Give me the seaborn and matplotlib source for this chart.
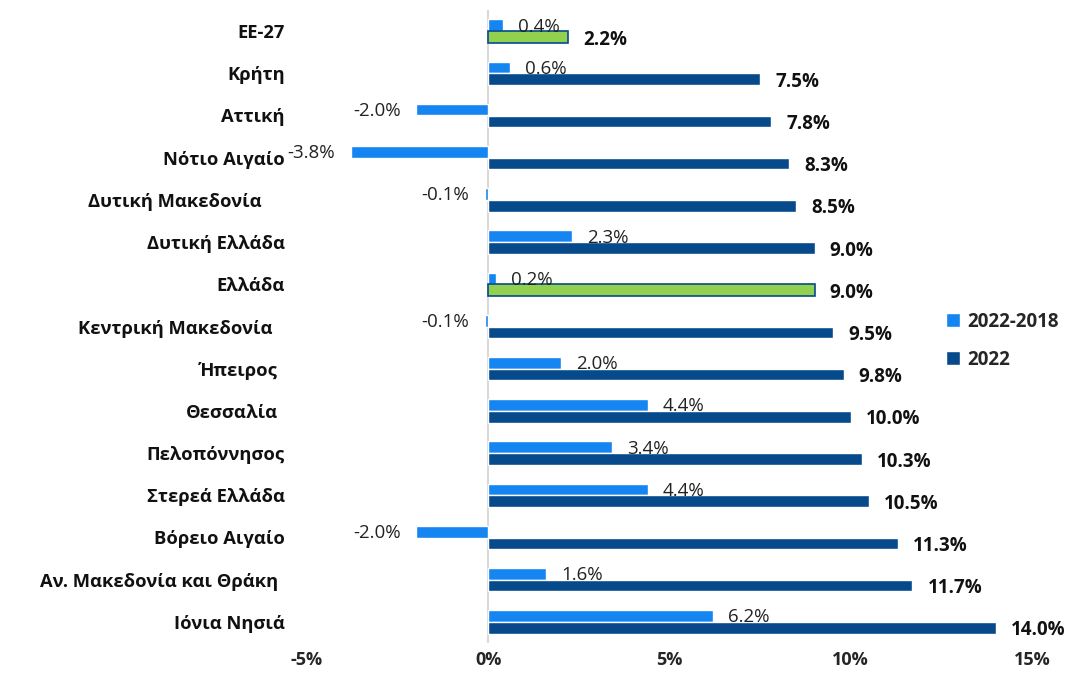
import matplotlib
matplotlib.use("Agg")
import matplotlib.pyplot as plt
import matplotlib.transforms as mtransforms
from matplotlib.patches import Patch
import seaborn as sns
import pandas as pd

regions = ["ΕΕ-27", "Κρήτη", "Αττική", "Νότιο Αιγαίο", "Δυτική Μακεδονία",
           "Δυτική Ελλάδα", "Ελλάδα", "Κεντρική Μακεδονία", "Ήπειρος", "Θεσσαλία",
           "Πελοπόννησος", "Στερεά Ελλάδα", "Βόρειο Αιγαίο",
           "Αν. Μακεδονία και Θράκη", "Ιόνια Νησιά"]
change_2022_2018 = [0.4, 0.6, -2.0, -3.8, -0.1, 2.3, 0.2, -0.1, 2.0, 4.4, 3.4, 4.4, -2.0, 1.6, 6.2]
value_2022 = [2.2, 7.5, 7.8, 8.3, 8.5, 9.0, 9.0, 9.5, 9.8, 10.0, 10.3, 10.5, 11.3, 11.7, 14.0]
series = ["2022-2018", "2022"]
highlight = ["ΕΕ-27", "Ελλάδα"]
xticks = [-5, 0, 5, 10, 15]

df = pd.DataFrame({
    "region": regions * 2,
    "value": change_2022_2018 + value_2022,
    "series": [series[0]] * len(regions) + [series[1]] * len(regions),
})

sns.set_theme(style="white")
plt.rcParams["font.family"] = ["Open Sans", "DejaVu Sans"]

light = "#1585F2"
dark = "#064A8C"
green = "#92D050"

fig = plt.figure(figsize=(10.71, 6.79), dpi=100)
ax = fig.add_axes([307 / 1071, 1 - 643 / 679, (1032 - 307) / 1071, (643 - 10) / 679])

sns.barplot(data=df, y="region", x="value", hue="series", order=regions,
            hue_order=series, palette=[light, dark], orient="h", width=0.55,
            gap=0, saturation=1, ax=ax, legend=False)

# highlight bars
for i, r in enumerate(regions):
    if r in highlight:
        p = ax.containers[1][i]
        p.set_facecolor(green)
        p.set_edgecolor(dark)
        p.set_linewidth(1.2)

# value labels
for i in range(len(regions)):
    p = ax.containers[0][i]
    v = change_2022_2018[i]
    yc = p.get_y() + p.get_height() / 2
    off = 11 if v >= 0 else -11
    ax.annotate(f"{v:.1f}%", (v, yc), xytext=(off, -1), textcoords="offset points",
                ha="left" if v >= 0 else "right", va="center", fontsize=13.5,
                color="#222222")
    p2 = ax.containers[1][i]
    v2 = value_2022[i]
    yc2 = p2.get_y() + p2.get_height() / 2
    ax.annotate(f"{v2:.1f}%", (v2, yc2), xytext=(11, -2), textcoords="offset points",
                ha="left", va="center", fontsize=13.5, fontweight="bold",
                color="#111111")

ax.set_xlim(-5, 15)
ax.set_xticks(xticks)
ax.set_xticklabels([f"{t}%" for t in xticks], fontsize=13, fontweight="bold")
ax.set_ylim(len(regions) - 0.5, -0.5)
ax.set_xlabel("")
ax.set_ylabel("")
for s in ax.spines.values():
    s.set_visible(False)
ax.axvline(0, color="#D9D9D9", lw=1.5, zorder=0.5)
ax.tick_params(axis="y", length=0, pad=16)
ax.tick_params(axis="x", length=0, pad=6)

label_shift_px = {"Δυτική Μακεδονία": -23, "Κεντρική Μακεδονία": -12,
                  "Ήπειρος": -7, "Θεσσαλία": -7, "Αν. Μακεδονία και Θράκη": -7}
for lbl in ax.get_yticklabels():
    lbl.set_fontsize(13.2)
    lbl.set_fontweight("bold")
    lbl.set_color("#111111")
    sh = label_shift_px.get(lbl.get_text(), 0)
    if sh:
        lbl.set_transform(lbl.get_transform() +
                          mtransforms.ScaledTranslation(sh / 100, 0, fig.dpi_scale_trans))

handles = [Patch(facecolor=light), Patch(facecolor=dark)]
leg = fig.legend(handles, series, loc="upper left",
                 bbox_to_anchor=(929 / 1071, 1 - 295 / 679), frameon=False,
                 handlelength=0.75, handleheight=0.75, handletextpad=0.4,
                 labelspacing=0.95, prop={"weight": "bold", "size": 13.5})

fig.savefig("out.png", dpi=100)
